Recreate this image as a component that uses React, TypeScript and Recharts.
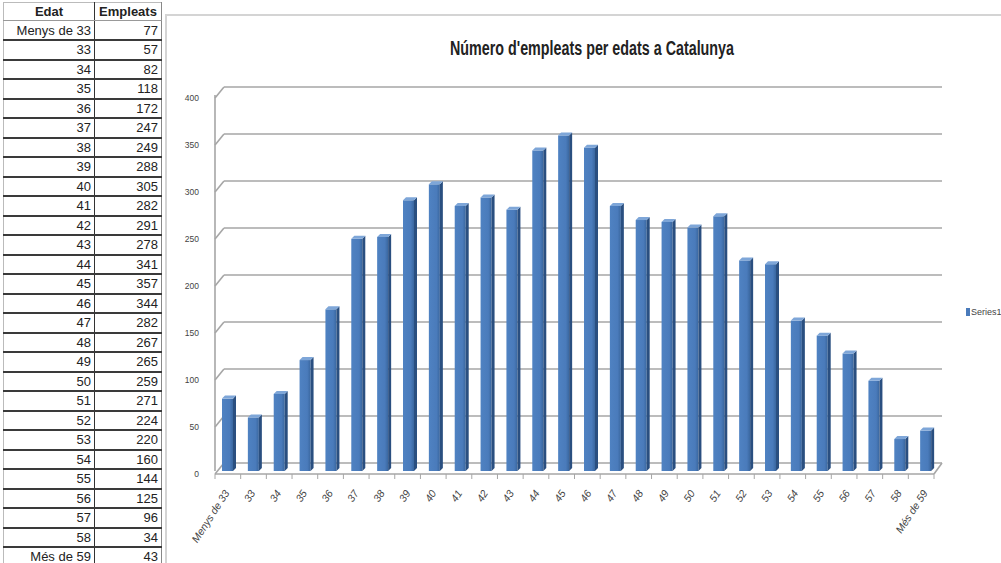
import { BarChart, Bar, XAxis, YAxis, CartesianGrid } from "recharts"

const ages = [
  "Menys de 33", "33", "34", "35", "36", "37", "38", "39", "40", "41", "42", "43", "44", "45",
  "46", "47", "48", "49", "50", "51", "52", "53", "54", "55", "56", "57", "58", "Més de 59"
]
const employees = [
  77, 57, 82, 118, 172, 247, 249, 288, 305, 282, 291, 278, 341, 357,
  344, 282, 267, 265, 259, 271, 224, 220, 160, 144, 125, 96, 34, 43
]
const yTicks = [0, 50, 100, 150, 200, 250, 300, 350, 400]

const data = ages.map((edat, i) => ({ edat, empleats: employees[i] }))

const sans = '"Liberation Sans", Arial, sans-serif'

// back wall offset of the fake 3D look
const DX = 9
const DY = -11

function Bar3D(props: any) {
  const { x, y, width, height } = props
  const d = 3
  return (
    <g>
      <rect x={x} y={y} width={width} height={height} fill="url(#barFace)" />
      <polygon
        points={`${x + width},${y} ${x + width + d},${y - d} ${x + width + d},${y + height - d} ${x + width},${y + height}`}
        fill="#2a4f80"
      />
      <polygon
        points={`${x},${y} ${x + d},${y - d} ${x + width + d},${y - d} ${x + width},${y}`}
        fill="#7ea6d8"
      />
    </g>
  )
}

function GridLine(props: any) {
  const { x1, x2, y1, index } = props
  const front = y1 + 3
  const back = front + DY
  const right = x2 - 5
  const step = (right - x1) / ages.length
  return (
    <g key={`g-${index}`} stroke="#a6a6a6" strokeWidth={1.6} fill="none">
      <line x1={x1} y1={front} x2={x1 + DX} y2={back} />
      <line x1={x1 + DX} y1={back} x2={x2 + 3} y2={back} />
      {index === 0 && (
        <>
          <line x1={x1} y1={front} x2={right} y2={front} />
          <line x1={right} y1={front} x2={x2 + 3} y2={back} />
          {ages.map((a, i) => (
            <line key={a} x1={x1 + step * (i + 1)} y1={front} x2={x1 + step * (i + 1)} y2={front + 5} strokeWidth={1} />
          ))}
          <line x1={x1} y1={front} x2={x1} y2={front + 5} strokeWidth={1} />
        </>
      )}
    </g>
  )
}

function XTick(props: any) {
  const { x, y, payload } = props
  return (
    <g transform={`translate(${x + 2},${y + 14})`}>
      <text textAnchor="end" transform="rotate(-57)" fontSize={10.5} fill="#444" fontFamily={sans} fontStyle="italic">
        {payload.value}
      </text>
    </g>
  )
}

function YTick(props: any) {
  const { x, y, payload } = props
  return (
    <text x={x - 8} y={y + 6} textAnchor="end" fontSize={8.5} fill="#444" fontFamily={sans}>
      {payload.value}
    </text>
  )
}

const cell = {
  borderBottom: "2px solid #3a3a3a",
  padding: "0 3px",
  textAlign: "right" as const,
  whiteSpace: "nowrap" as const,
  overflow: "hidden"
}

export default function App() {
  return (
    <div style={{ position: "absolute", left: 0, top: 0, width: 1001, height: 563, background: "#fff", overflow: "hidden" }}>

      <table
        style={{
          position: "absolute",
          left: 3,
          top: 2,
          width: 158,
          tableLayout: "fixed",
          borderCollapse: "collapse",
          fontFamily: sans,
          fontSize: 13,
          color: "#222",
          borderLeft: "1px solid #bbb",
          borderTop: "1px solid #bbb",
          borderRight: "1px solid #888"
        }}
      >
        <colgroup>
          <col style={{ width: 91 }} />
          <col style={{ width: 67 }} />
        </colgroup>
        <thead>
          <tr style={{ height: 18 }}>
            <th style={{ ...cell, textAlign: "center", borderRight: "1px solid #333", borderBottom: "1px solid #999" }}>Edat</th>
            <th style={{ ...cell, textAlign: "center", borderBottom: "1px solid #999" }}>Empleats</th>
          </tr>
        </thead>
        <tbody>
          {data.map((row) => (
            <tr key={row.edat} style={{ height: 19.5 }}>
              <td style={{ ...cell, borderRight: "1px solid #333" }}>{row.edat}</td>
              <td style={cell}>{row.empleats}</td>
            </tr>
          ))}
        </tbody>
      </table>

      <div
        style={{
          position: "absolute",
          left: 165,
          top: 14,
          width: 840,
          height: 560,
          borderLeft: "2px solid #d4d4d4",
          borderTop: "2px solid #d4d4d4"
        }}
      >
        <svg width={836} height={50} style={{ position: "absolute", left: 0, top: 0 }}>
          <text
            x={425}
            y={39}
            textAnchor="middle"
            fontFamily={sans}
            fontWeight="bold"
            fontSize={20}
            fill="#222"
            textLength={284}
            lengthAdjust="spacingAndGlyphs"
          >
            Número d'empleats per edats a Catalunya
          </text>
        </svg>

        <BarChart
          width={836}
          height={549}
          data={data}
          margin={{ top: 79, right: 64, bottom: 0, left: 0 }}
        >
          <defs>
            <linearGradient id="barFace" x1="0" y1="0" x2="1" y2="0">
              <stop offset="0%" stopColor="#4f82c2" />
              <stop offset="70%" stopColor="#4a7bbb" />
              <stop offset="100%" stopColor="#3a679f" />
            </linearGradient>
          </defs>
          <CartesianGrid vertical={false} horizontal={GridLine} />
          <XAxis
            dataKey="edat"
            interval={0}
            height={94}
            axisLine={false}
            tickLine={false}
            tick={XTick}
          />
          <YAxis
            domain={[0, 400]}
            ticks={yTicks}
            width={48}
            axisLine={{ stroke: "#a6a6a6", strokeWidth: 1.6 }}
            tickLine={false}
            tick={YTick}
          />
          <Bar dataKey="empleats" barSize={11} shape={Bar3D} isAnimationActive={false} />
        </BarChart>

        <div
          style={{
            position: "absolute",
            left: 799,
            top: 291,
            fontFamily: sans,
            fontSize: 9,
            color: "#444",
            display: "flex",
            alignItems: "center",
            gap: 1,
            whiteSpace: "nowrap"
          }}
        >
          <span style={{ display: "inline-block", width: 4, height: 8, background: "#4a7bbb" }} />
          Series1
        </div>
      </div>
    </div>
  )
}
